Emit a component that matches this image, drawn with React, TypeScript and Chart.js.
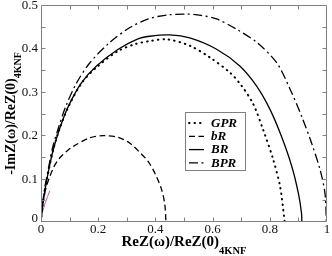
import React, { useEffect, useRef } from "react";
import { Chart, registerables } from "chart.js";

Chart.register(...registerables);

// ---- data ----
const gprRe = [0, 0.004, 0.014, 0.027, 0.043, 0.065, 0.097, 0.143, 0.197, 0.27, 0.33, 0.381, 0.44, 0.521, 0.591, 0.661, 0.70, 0.742, 0.777, 0.812, 0.836, 0.85, 0.852];
const gprIm = [0, 0.03, 0.074, 0.12, 0.167, 0.215, 0.267, 0.321, 0.358, 0.394, 0.41, 0.417, 0.421, 0.406, 0.379, 0.344, 0.315, 0.272, 0.212, 0.144, 0.082, 0.012, 0];

const bRRe = [0, 0.003, 0.008, 0.018, 0.031, 0.045, 0.066, 0.09, 0.112, 0.171, 0.218, 0.27, 0.31, 0.346, 0.374, 0.40, 0.422, 0.433, 0.437];
const bRIm = [0, 0.025, 0.051, 0.08, 0.105, 0.127, 0.148, 0.163, 0.174, 0.194, 0.199, 0.195, 0.182, 0.16, 0.14, 0.11, 0.074, 0.04, 0];

const brRe = [0, 0.004, 0.014, 0.027, 0.043, 0.065, 0.096, 0.142, 0.195, 0.27, 0.335, 0.381, 0.45, 0.52, 0.614, 0.696, 0.754, 0.801, 0.841, 0.877, 0.9, 0.911, 0.912];
const brIm = [0, 0.03, 0.074, 0.12, 0.167, 0.215, 0.267, 0.321, 0.36, 0.398, 0.421, 0.428, 0.431, 0.424, 0.398, 0.359, 0.313, 0.259, 0.197, 0.128, 0.066, 0.02, 0];

const bprRe = [0, 0.004, 0.012, 0.025, 0.04, 0.06, 0.087, 0.125, 0.171, 0.241, 0.311, 0.375, 0.44, 0.509, 0.56, 0.614, 0.684, 0.754, 0.824, 0.871, 0.911, 0.946, 0.976, 0.993, 0.998];
const bprIm = [0, 0.03, 0.075, 0.12, 0.17, 0.215, 0.267, 0.321, 0.367, 0.414, 0.448, 0.468, 0.477, 0.479, 0.476, 0.468, 0.444, 0.414, 0.367, 0.306, 0.244, 0.182, 0.12, 0.066, 0];

const extraRe = [0.004, 0.015, 0.031];
const extraIm = [0.02, 0.045, 0.072];

const xTickValues = [0, 0.2, 0.4, 0.6, 0.8, 1];
const xTickLabels = ["0", "0.2", "0.4", "0.6", "0.8", "1"];
const yTickValues = [0, 0.1, 0.2, 0.3, 0.4, 0.5];
const yTickLabels = ["0", "0.1", "0.2", "0.3", "0.4", "0.5"];
const xMinorTicks = [0.1, 0.2, 0.3, 0.4, 0.5, 0.6, 0.7, 0.8, 0.9];
const yMinorTicks = [0.05, 0.1, 0.15, 0.2, 0.25, 0.3, 0.35, 0.4, 0.45];

const legendLabels = ["GPR", "bR", "BR", "BPR"];
const xTitleMain = "ReZ(\u03c9)/ReZ(0)";
const yTitleMain = "-ImZ(\u03c9)/ReZ(0)";
const titleSub = "4KNF";

const SERIF = "'Liberation Serif', 'Times New Roman', 'DejaVu Serif', serif";
const FRAME = "#808080";

function pts(xs: number[], ys: number[]) {
  return xs.map((x, i) => ({ x, y: ys[i] }));
}

const decorPlugin = {
  id: "decor",
  afterDraw(chart: any) {
    const { ctx, chartArea: a, scales } = chart;
    const xs = scales.x;
    const ys = scales.y;
    ctx.save();
    // frame
    ctx.strokeStyle = FRAME;
    ctx.lineWidth = 1;
    ctx.setLineDash([]);
    const L = Math.round(a.left) + 0.5;
    const R = Math.round(a.right) - 0.5;
    const T = Math.round(a.top) + 0.5;
    const B = Math.round(a.bottom) - 0.5;
    ctx.beginPath();
    ctx.rect(L, T, R - L, B - T);
    ctx.stroke();
    // inward ticks
    const tl = 4;
    ctx.beginPath();
    for (const v of xMinorTicks) {
      const px = Math.round(xs.getPixelForValue(v)) + 0.5;
      ctx.moveTo(px, B);
      ctx.lineTo(px, B - tl);
      ctx.moveTo(px, T);
      ctx.lineTo(px, T + tl);
    }
    for (const v of yMinorTicks) {
      const py = Math.round(ys.getPixelForValue(v)) + 0.5;
      ctx.moveTo(L, py);
      ctx.lineTo(L + tl, py);
      ctx.moveTo(R, py);
      ctx.lineTo(R - tl, py);
    }
    ctx.stroke();

    // tick labels
    ctx.fillStyle = "#111";
    ctx.font = `13px ${SERIF}`;
    ctx.textAlign = "center";
    ctx.textBaseline = "alphabetic";
    xTickValues.forEach((v, i) => {
      ctx.fillText(xTickLabels[i], xs.getPixelForValue(v), 233);
    });
    ctx.textAlign = "right";
    ctx.textBaseline = "middle";
    yTickValues.forEach((v, i) => {
      const py = ys.getPixelForValue(v) + (v === 0 ? -3 : 0.5);
      ctx.fillText(yTickLabels[i], 38, py);
    });

    // legend
    const bx = 185.5, by = 112.5, bw = 60, bh = 58;
    ctx.fillStyle = "#fff";
    ctx.fillRect(bx, by, bw, bh);
    ctx.strokeStyle = FRAME;
    ctx.lineWidth = 1;
    ctx.strokeRect(bx, by, bw, bh);
    const dsets = chart.data.datasets;
    for (let i = 0; i < legendLabels.length; i++) {
      const ds = dsets[i];
      const yy = 123 + i * 13.3;
      ctx.strokeStyle = "#000";
      ctx.lineWidth = ds.borderWidth;
      ctx.lineCap = ds.borderCapStyle || "butt";
      ctx.setLineDash(ds.borderDash || []);
      ctx.beginPath();
      ctx.moveTo(189, yy);
      ctx.lineTo(204, yy);
      ctx.stroke();
      ctx.setLineDash([]);
      ctx.lineCap = "butt";
      ctx.fillStyle = "#000";
      ctx.font = `italic bold 13px ${SERIF}`;
      ctx.textAlign = "left";
      ctx.textBaseline = "middle";
      ctx.fillText(legendLabels[i], 211, yy + 0.5);
    }

    // axis titles with subscripts
    ctx.fillStyle = "#000";
    ctx.textAlign = "left";
    ctx.textBaseline = "alphabetic";
    // x title
    const xMain = `bold 15px ${SERIF}`;
    const xSub = `bold 10.5px ${SERIF}`;
    ctx.font = xMain;
    const xw1 = ctx.measureText(xTitleMain).width;
    ctx.font = xSub;
    const xw2 = ctx.measureText(titleSub).width;
    const xcx = (a.left + a.right) / 2;
    const xs0 = xcx - (xw1 + xw2) / 2;
    ctx.font = xMain;
    ctx.fillText(xTitleMain, xs0, 246);
    ctx.font = xSub;
    ctx.fillText(titleSub, xs0 + xw1, 254);
    // y title
    const yMain = `bold 14px ${SERIF}`;
    const ySub = `bold 10px ${SERIF}`;
    ctx.font = yMain;
    const yw1 = ctx.measureText(yTitleMain).width;
    ctx.font = ySub;
    const yw2 = ctx.measureText(titleSub).width;
    const ycy = (a.top + a.bottom) / 2;
    ctx.translate(15, ycy);
    ctx.rotate(-Math.PI / 2);
    const ys0 = -(yw1 + yw2) / 2;
    ctx.font = yMain;
    ctx.fillText(yTitleMain, ys0, 0);
    ctx.font = ySub;
    ctx.fillText(titleSub, ys0 + yw1, 6);
    ctx.restore();
  },
};

export default function App() {
  const ref = useRef<HTMLCanvasElement | null>(null);
  useEffect(() => {
    if (!ref.current) return;
    const common = { borderColor: "#000", pointRadius: 0, fill: false, tension: 0.3 };
    const chart = new Chart(ref.current, {
      type: "line",
      data: {
        datasets: [
          { ...common, label: "GPR", data: pts(gprRe, gprIm), borderWidth: 2, borderDash: [0.5, 5], borderCapStyle: "round" },
          { ...common, label: "bR", data: pts(bRRe, bRIm), borderWidth: 1.3, borderDash: [6, 3.5] },
          { ...common, label: "BR", data: pts(brRe, brIm), borderWidth: 1.3 },
          { ...common, label: "BPR", data: pts(bprRe, bprIm), borderWidth: 1.3, borderDash: [9, 3.5, 2, 3.5] },
          { ...common, label: "", data: pts(extraRe, extraIm), borderWidth: 1, borderColor: "#c0609a" },
        ] as any,
      },
      options: {
        animation: false,
        responsive: false,
        devicePixelRatio: 1,
        layout: { padding: { left: 0, top: 5, right: 5, bottom: 0 } },
        plugins: { legend: { display: false }, tooltip: { enabled: false } },
        scales: {
          x: {
            type: "linear",
            min: 0,
            max: 1,
            ticks: { display: false, stepSize: 0.2 },
            grid: { display: false, drawTicks: false },
            border: { display: false },
            afterFit: (s: any) => { s.height = 34; },
          },
          y: {
            type: "linear",
            min: 0,
            max: 0.5,
            ticks: { display: false, stepSize: 0.1 },
            grid: { display: false, drawTicks: false },
            border: { display: false },
            afterFit: (s: any) => { s.width = 41; },
          },
        },
      } as any,
      plugins: [decorPlugin],
    });
    return () => chart.destroy();
  }, []);
  return (
    <div style={{ position: "fixed", left: 0, top: 0, width: 332, height: 256, background: "#fff" }}>
      <canvas ref={ref} width={332} height={256} style={{ display: "block", width: 332, height: 256 }} />
    </div>
  );
}
